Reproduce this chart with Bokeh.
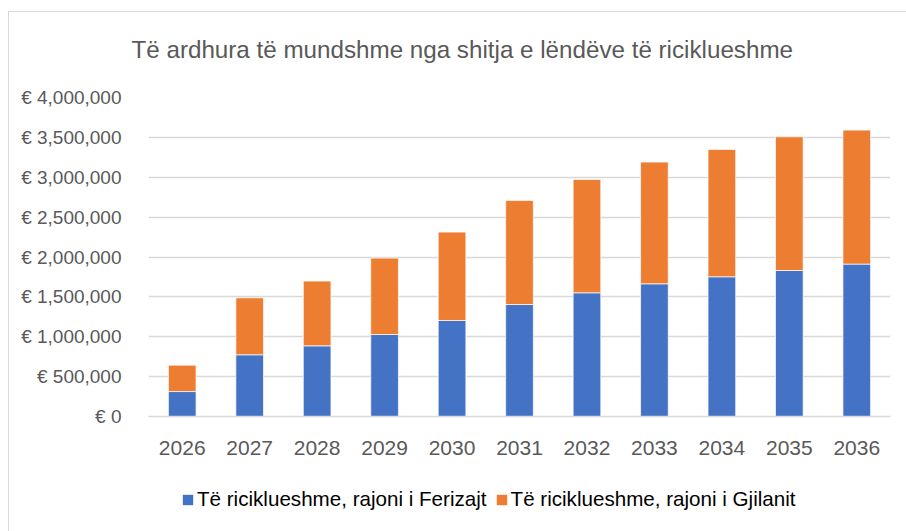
from bokeh.plotting import figure
from bokeh.layouts import column
from bokeh.models import (ColumnDataSource, FactorRange, Range1d, FixedTicker,
                          CustomJSTickFormatter, Legend, LegendItem, Title)
from bokeh.embed import file_html
from bokeh.resources import INLINE

years = ["2026", "2027", "2028", "2029", "2030", "2031", "2032", "2033", "2034", "2035", "2036"]
ferizaj = [313000, 774000, 886000, 1028000, 1204000, 1404000, 1551000, 1664000, 1752000, 1831000, 1911000]
gjilan = [331000, 714000, 812000, 958000, 1108000, 1304000, 1421000, 1526000, 1596000, 1676000, 1680000]
series_names = ["Të riciklueshme, rajoni i Ferizajt", "Të riciklueshme, rajoni i Gjilanit"]
colors = ["#4472C4", "#ED7D31"]
y_ticks = [0, 500000, 1000000, 1500000, 2000000, 2500000, 3000000, 3500000, 4000000]
title_text = "Të ardhura të mundshme nga shitja e lëndëve të riciklueshme"

FONT = "Liberation Sans"
TEXT = "#595959"
GRID = "#D9D9D9"
W = 897
BL, BR = 139, 16


def strip(height, top):
    f = figure(width=W, height=height, x_range=Range1d(0, 1), y_range=Range1d(0, 1),
               x_axis_type=None, y_axis_type=None,
               min_border_left=BL, min_border_right=BR, min_border_top=top, min_border_bottom=0,
               output_backend="svg", toolbar_location=None)
    f.outline_line_color = None
    f.xgrid.grid_line_color = None
    f.ygrid.grid_line_color = None
    return f


# --- title strip ---
tf = strip(73, 55)
tf.title = Title(text=title_text, align="left", offset=-17, standoff=10,
                 text_font=FONT, text_font_size="24.2px", text_font_style="normal",
                 text_color=TEXT)

# --- main chart ---
source = ColumnDataSource(dict(year=years, ferizaj=ferizaj, gjilan=gjilan))
p = figure(x_range=FactorRange(*years, range_padding=0),
           y_range=Range1d(0, 4000000),
           width=W, height=387,
           output_backend="svg", toolbar_location=None,
           min_border_left=BL, min_border_right=BR,
           min_border_top=12, min_border_bottom=56,
           background_fill_color="white", border_fill_color="white")
p.outline_line_color = None

p.vbar_stack(["ferizaj", "gjilan"], x="year", width=0.41, source=source,
             color=colors, line_color="white", line_width=0.7)

p.yaxis.ticker = FixedTicker(ticks=y_ticks)
p.yaxis.formatter = CustomJSTickFormatter(code='return "€ " + tick.toLocaleString("en-US");')
p.yaxis.axis_line_color = None
p.yaxis.major_tick_line_color = None
p.yaxis.minor_tick_line_color = None
p.yaxis.major_label_standoff = 21
p.yaxis.major_label_text_font = FONT
p.yaxis.major_label_text_font_size = "19px"
p.yaxis.major_label_text_color = TEXT

p.xaxis.axis_line_color = GRID
p.xaxis.axis_line_width = 1.5
p.xaxis.major_tick_line_color = None
p.xaxis.minor_tick_line_color = None
p.xaxis.major_label_standoff = 18
p.xaxis.major_label_text_font = FONT
p.xaxis.major_label_text_font_size = "21px"
p.xaxis.major_label_text_color = TEXT

p.xgrid.grid_line_color = None
p.ygrid.grid_line_color = GRID
p.ygrid.grid_line_width = 1.5

# --- legend strip ---
lg = strip(59, 0)
# zero-height stand-in glyphs so the legend can draw its colour keys
keys = [lg.vbar(x=[0.5], top=[0], bottom=[0], width=0.01, fill_color=c, line_color=None)
        for c in colors]
legend = Legend(items=[LegendItem(label=series_names[i], renderers=[keys[i]]) for i in range(2)],
                orientation="horizontal", location=(33, 20),
                glyph_width=13, glyph_height=13, label_standoff=3, spacing=8,
                padding=0, margin=0, border_line_color=None, background_fill_alpha=0,
                label_text_font=FONT, label_text_font_size="20.6px", label_text_color="#000000",
                label_height=13)
lg.add_layout(legend, "center")

layout = column(tf, p, lg, spacing=0)
layout.margin = (11, 0, 0, 8)
layout.styles = {"border-top": "1px solid #D9D9D9", "border-left": "1px solid #D9D9D9"}

open("out.html", "w").write(file_html(layout, INLINE))
